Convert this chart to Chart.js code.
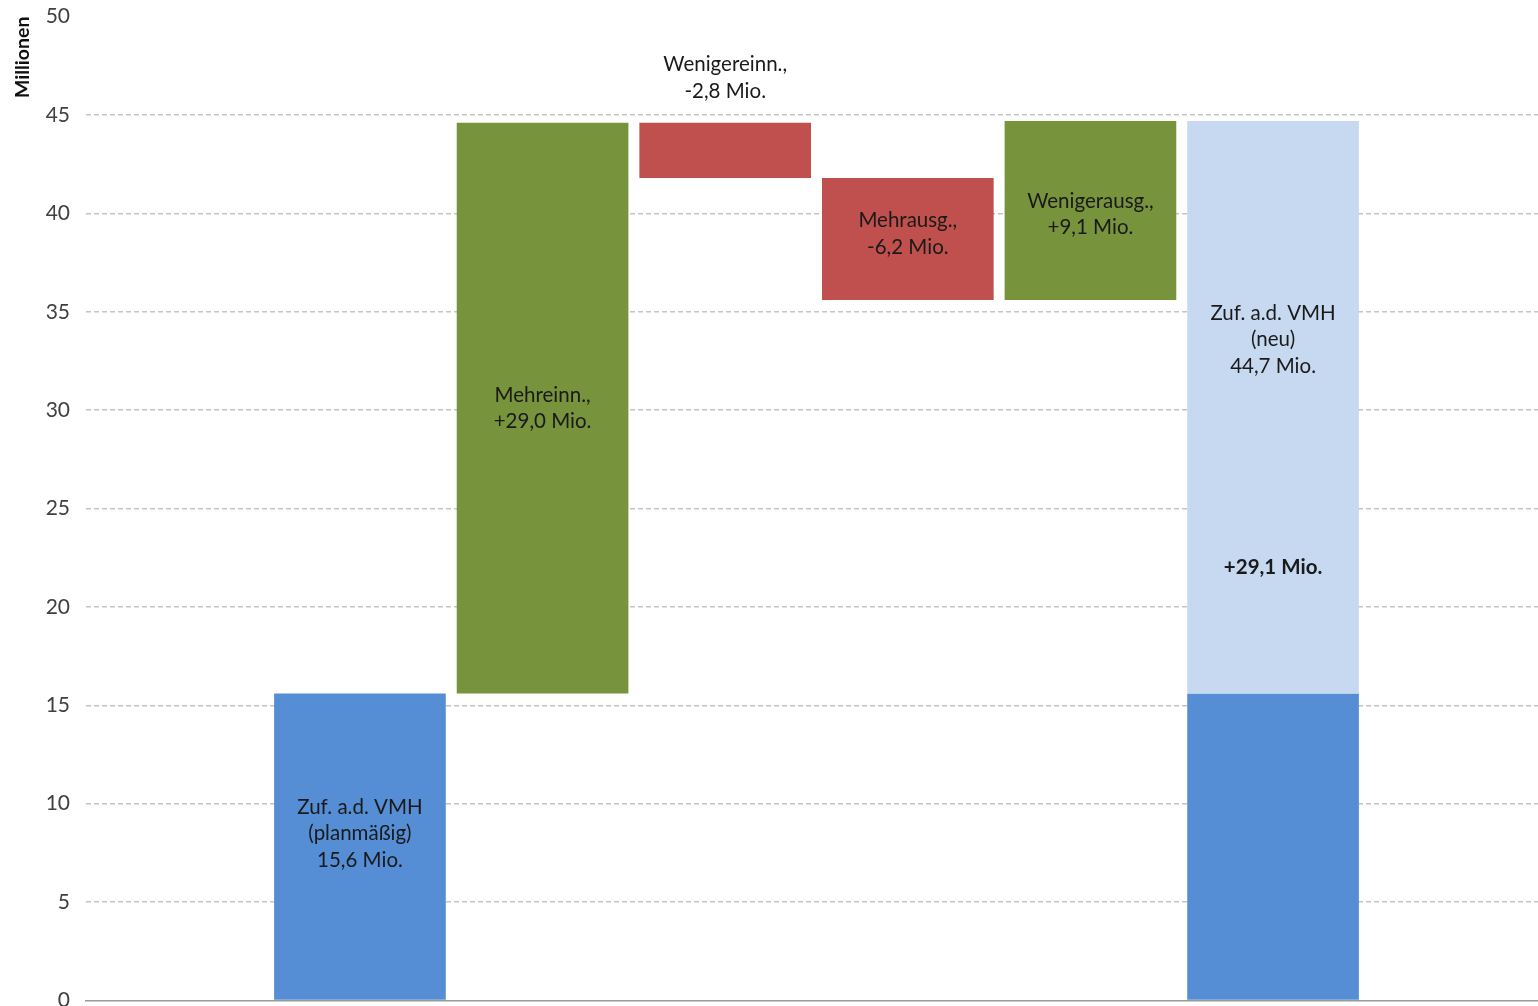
<!DOCTYPE html>
<html>
<head>
<meta charset="utf-8">
<script src="https://cdn.jsdelivr.net/npm/chart.js@4/dist/chart.umd.min.js"></script>
<style>
  html, body { margin: 0; padding: 0; background: #fff; overflow: hidden; }
  body { width: 1538px; height: 1006px; position: relative; }
  #wrap { position: absolute; left: -15px; top: -12px; width: 1562px; height: 1041px; }
</style>
</head>
<body>
<div id="wrap"><canvas id="waterfall"></canvas></div>
<script>
// Kategorien (erste und letzte Spalte bleiben leer)
var kategorien = ['', 'planmäßig', 'Mehreinn.', 'Wenigereinn.', 'Mehrausg.', 'Wenigerausg.', 'neu', ''];

// untere / obere Kante jedes Balkens in Mio.
var balkenVon = [null, 0, 15.6, 41.8, 35.6, 35.6, 0, null];
var balkenBis = [null, 15.6, 44.6, 44.6, 41.8, 44.7, 15.6, null];

// Aufsatz auf dem letzten Balken (Zuführung neu)
var aufsatzVon = [null, null, null, null, null, null, 15.6, null];
var aufsatzBis = [null, null, null, null, null, null, 44.7, null];

var yTicks = [0, 5, 10, 15, 20, 25, 30, 35, 40, 45, 50];

var beschriftungen = [
    null,
    ['Zuf. a.d. VMH', '(planmäßig)', '15,6 Mio.'],
    ['Mehreinn.,', '+29,0 Mio.'],
    ['Wenigereinn.,', '-2,8 Mio.'],
    ['Mehrausg.,', '-6,2 Mio.'],
    ['Wenigerausg.,', '+9,1 Mio.'],
    ['Zuf. a.d. VMH', '(neu)', '44,7 Mio.'],
    null
];
var aufsatzText = '+29,1 Mio.';

var blau = '#558ED5', gruen = '#77933C', rot = '#C0504D', hellblau = '#C6D9F1';
var farben = [blau, blau, gruen, rot, rot, gruen, blau, blau];

function paare(von, bis) {
    return von.map(function(v, i) {
        return v === null ? null : [v, bis[i]];
    });
}

var FONT = 'Lato, "Open Sans", sans-serif';

// Beschriftungen direkt in die Balken schreiben
var textPlugin = {
    id: 'balkenText',
    afterDatasetsDraw: function(chart) {
        var ctx = chart.ctx;
        var y = chart.scales.y;
        var meta0 = chart.getDatasetMeta(0);
        var meta1 = chart.getDatasetMeta(1);
        var zeile = 26.5;
        ctx.save();
        ctx.textAlign = 'center';
        ctx.textBaseline = 'middle';
        ctx.fillStyle = '#1a1a1a';
        ctx.font = '20.5px ' + FONT;

        beschriftungen.forEach(function(lines, i) {
            if (!lines) return;
            var bar = meta0.data[i];
            var mitte = (bar.y + bar.base) / 2;
            if (i === 3) {
                // über dem Balken
                mitte = bar.y - 45;
            } else if (i === 6) {
                mitte = meta1.data[i].y + 219;
            } else if (i === 1) {
                mitte -= 13;
            } else if (i === 4) {
                mitte -= 5;
            } else if (i === 5) {
                mitte += 4;
            }
            var start = mitte - (lines.length - 1) * zeile / 2;
            lines.forEach(function(t, k) {
                ctx.fillText(t, bar.x, start + k * zeile);
            });
        });

        var a = meta1.data[6];
        ctx.font = 'bold 20.5px ' + FONT;
        ctx.fillText(aufsatzText, a.x, y.getPixelForValue(22));
        ctx.restore();
    }
};

var ctx = document.getElementById('waterfall');
var chart = new Chart(ctx, {
    type: 'bar',
    data: {
        labels: kategorien,
        datasets: [{
            label: 'Balken',
            data: paare(balkenVon, balkenBis),
            backgroundColor: farben,
            grouped: false,
            categoryPercentage: 1,
            barPercentage: 0.94,
            borderSkipped: false,
            order: 2
        }, {
            label: 'Aufsatz',
            data: paare(aufsatzVon, aufsatzBis),
            backgroundColor: hellblau,
            grouped: false,
            categoryPercentage: 1,
            barPercentage: 0.94,
            borderSkipped: false,
            order: 1
        }]
    },
    options: {
        responsive: true,
        maintainAspectRatio: false,
        animation: false,
        layout: { padding: { top: -8, right: 0, bottom: -18, left: 0 } },
        plugins: {
            legend: { display: false },
            tooltip: { enabled: false }
        },
        scales: {
            x: {
                grid: { display: false },
                border: { display: true, color: '#9a9a9a', width: 1.5 },
                ticks: { display: false }
            },
            y: {
                min: 0,
                max: 50,
                afterBuildTicks: function(axis) {
                    axis.ticks = yTicks.map(function(v) { return { value: v }; });
                },
                grid: {
                    color: function(c) {
                        var v = c.tick && c.tick.value;
                        return (v === 0 || v === 50) ? 'rgba(0,0,0,0)' : '#c4c4c4';
                    },
                    lineWidth: 1.5,
                    drawTicks: false
                },
                border: { display: false, dash: [5, 3] },
                ticks: {
                    padding: 16,
                    color: '#404040',
                    font: { family: FONT, size: 21 }
                },
                title: {
                    display: true,
                    text: 'Millionen',
                    align: 'end',
                    color: '#111',
                    font: { family: FONT, size: 19.5, weight: 'bold', lineHeight: 0.7 },
                    padding: { top: 31, bottom: 0 }
                }
            }
        }
    },
    plugins: [textPlugin]
});
</script>
</body>
</html>
